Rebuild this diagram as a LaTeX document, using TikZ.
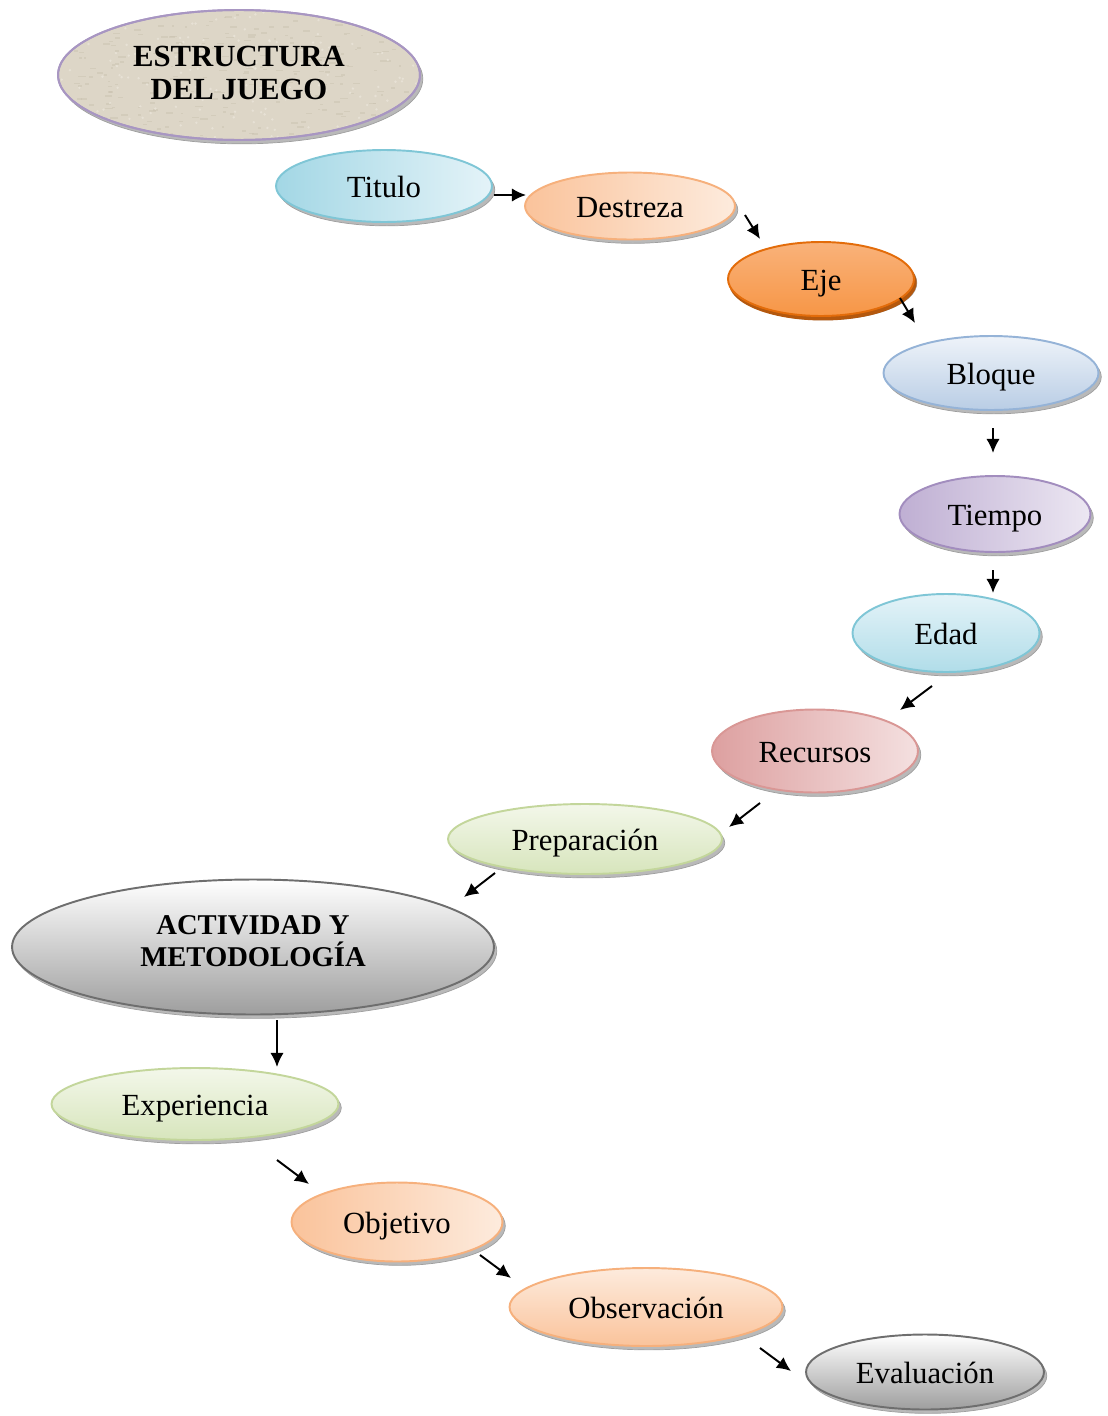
\documentclass[tikz,border=0pt]{standalone}
\usepackage{fontspec}
\setmainfont{Liberation Serif}
\usetikzlibrary{shapes.geometric,shadows,arrows.meta}
\definecolor{bluebd}{HTML}{7FC6D6}
\definecolor{bluedk}{HTML}{A3D7E5}
\definecolor{bluelt}{HTML}{E4F3F8}
\definecolor{peachbd}{HTML}{F6B07C}
\definecolor{peachdk}{HTML}{FAC39B}
\definecolor{peachlt}{HTML}{FDEBDD}
\definecolor{orangebd}{HTML}{E36C0A}
\definecolor{orangefl}{HTML}{F79646}
\definecolor{orangelt}{HTML}{F9B27A}
\definecolor{orangesh}{HTML}{B4580E}
\definecolor{steelbd}{HTML}{95B3D7}
\definecolor{steellt}{HTML}{EEF3F9}
\definecolor{steeldk}{HTML}{B9CDE5}
\definecolor{lavbd}{HTML}{A28DBE}
\definecolor{lavdk}{HTML}{BFAFD3}
\definecolor{lavlt}{HTML}{ECE7F2}
\definecolor{pinkbd}{HTML}{D99795}
\definecolor{pinkdk}{HTML}{DDA0A0}
\definecolor{pinklt}{HTML}{F4E0E0}
\definecolor{greenbd}{HTML}{C3D69B}
\definecolor{greenlt}{HTML}{F3F7EA}
\definecolor{greendk}{HTML}{D7E5BC}
\definecolor{graybd}{HTML}{6E6E6E}
\definecolor{graydk}{HTML}{9E9E9E}
\definecolor{beige}{HTML}{DDD6C7}
\definecolor{beigedk}{HTML}{C9C0AE}
\definecolor{beigelt}{HTML}{ECE7DC}
\definecolor{purplebd}{HTML}{A896C2}
\tikzset{
  x=0.02cm, y=-0.02cm,
  bub/.style={ellipse, inner sep=0pt, line width=1.1pt,
    font=\fontsize{17.5}{21}\selectfont, text=black, align=center,
    text height=13.5pt, text depth=0pt,
    general shadow={fill=gray!55, draw=gray!75, line width=0.4pt,
      shadow xshift=1.6pt, shadow yshift=-2.2pt}},
  hbub/.style={ellipse, inner sep=0pt, line width=1.1pt, text=black,
    general shadow={fill=gray!55, draw=gray!75, line width=0.4pt,
      shadow xshift=1.6pt, shadow yshift=-2.2pt}},
  htext/.style={inner sep=0pt, text=black, align=center},
  blue/.style={draw=bluebd, left color=bluedk, right color=bluelt},
  bluev/.style={draw=bluebd, top color=bluelt, bottom color=bluedk!85},
  peach/.style={draw=peachbd, left color=peachdk, right color=peachlt},
  peachv/.style={draw=peachbd, top color=peachlt, bottom color=peachdk},
  orng/.style={draw=orangebd, top color=orangelt, bottom color=orangefl,
    general shadow={fill=orangesh, draw=orangesh, shadow xshift=1pt, shadow yshift=-2pt}},
  steel/.style={draw=steelbd, top color=steellt, bottom color=steeldk},
  lav/.style={draw=lavbd, left color=lavdk, right color=lavlt},
  pink/.style={draw=pinkbd, left color=pinkdk, right color=pinklt},
  grn/.style={draw=greenbd, top color=greenlt, bottom color=greendk},
  gry/.style={draw=graybd, top color=white, bottom color=graydk},
  bge/.style={draw=purplebd, fill=beige},
  arr/.style={-{Latex[length=8pt,width=7.6pt]}, line width=1.1pt, black}
}
\begin{document}
\begin{tikzpicture}
\useasboundingbox (0,0) rectangle (1107,1416);
% ESTRUCTURA DEL JUEGO (textured)
\node[hbub, bge, minimum width=7.24cm, minimum height=2.6cm] (estrbg) at (239,75) {};
\begin{scope}
  \clip (239,75) ellipse [x radius=3.58cm, y radius=1.27cm];
  \pgfmathsetseed{7}
  \foreach \k in {1,...,260} {
    \pgfmathsetmacro{\px}{60+360*rnd}
    \pgfmathsetmacro{\py}{12+126*rnd}
    \pgfmathsetmacro{\pw}{2+6*rnd}
    \fill[beigedk, opacity=0.45] (\px,\py) rectangle ++(\pw,1.5);
  }
  \foreach \k in {1,...,160} {
    \pgfmathsetmacro{\px}{60+360*rnd}
    \pgfmathsetmacro{\py}{12+126*rnd}
    \fill[beigelt, opacity=0.7] (\px,\py) circle (1.3);
  }
\end{scope}
\draw[draw=purplebd, line width=1.1pt] (239,75) ellipse [x radius=3.62cm, y radius=1.3cm];
\node[htext, font=\fontsize{17.5}{19}\selectfont\bfseries] (estr) at (239,73) {ESTRUCTURA\\DEL JUEGO};
\node[bub, blue, minimum width=4.32cm, minimum height=1.44cm] (titulo) at (384,186) {Titulo};
\node[bub, peach, minimum width=4.2cm, minimum height=1.34cm] (destreza) at (630,206) {Destreza};
\node[bub, orng, minimum width=3.72cm, minimum height=1.48cm] (eje) at (821,279) {Eje};
\node[bub, steel, minimum width=4.3cm, minimum height=1.48cm] (bloque) at (991,373) {Bloque};
\node[bub, lav, minimum width=3.82cm, minimum height=1.52cm] (tiempo) at (995,514) {Tiempo};
\node[bub, bluev, minimum width=3.74cm, minimum height=1.56cm] (edad) at (946,633) {Edad};
\node[bub, pink, minimum width=4.12cm, minimum height=1.66cm] (recursos) at (815,751) {Recursos};
\node[bub, grn, minimum width=5.48cm, minimum height=1.4cm] (prep) at (585,839) {Preparación};
\node[hbub, gry, minimum width=9.64cm, minimum height=2.7cm] (activbg) at (253,947) {};
\node[htext, font=\fontsize{16.3}{18}\selectfont\bfseries] (activ) at (253,941) {ACTIVIDAD Y\\METODOLOGÍA};
\node[bub, grn, minimum width=5.74cm, minimum height=1.44cm] (exper) at (195,1104) {Experiencia};
\node[bub, peach, minimum width=4.22cm, minimum height=1.58cm] (objetivo) at (397,1222) {Objetivo};
\node[bub, peachv, minimum width=5.46cm, minimum height=1.56cm] (observ) at (646,1307) {Observación};
\node[bub, gry, minimum width=4.76cm, minimum height=1.5cm] (eval) at (925,1372) {Evaluación};
% arrow end points
\coordinate (a1s) at (494,195); \coordinate (a1e) at (526,195);
\coordinate (a2s) at (745,215); \coordinate (a2e) at (760,239);
\coordinate (a3s) at (900,298); \coordinate (a3e) at (915,323);
\coordinate (a4s) at (993,428); \coordinate (a4e) at (993,453);
\coordinate (a5s) at (993,570); \coordinate (a5e) at (993,593);
\coordinate (a6s) at (932,686); \coordinate (a6e) at (900,710);
\coordinate (a7s) at (760,803); \coordinate (a7e) at (729,827);
\coordinate (a8s) at (495,873); \coordinate (a8e) at (464,897);
\coordinate (a9s) at (277,1020); \coordinate (a9e) at (277,1067);
\coordinate (a10s) at (277,1160); \coordinate (a10e) at (309,1184);
\coordinate (a11s) at (480,1255); \coordinate (a11e) at (511,1278);
\coordinate (a12s) at (760,1348); \coordinate (a12e) at (791,1371);
\foreach \i in {1,...,12} \draw[arr] (a\i s) -- (a\i e);
\end{tikzpicture}
\end{document}
